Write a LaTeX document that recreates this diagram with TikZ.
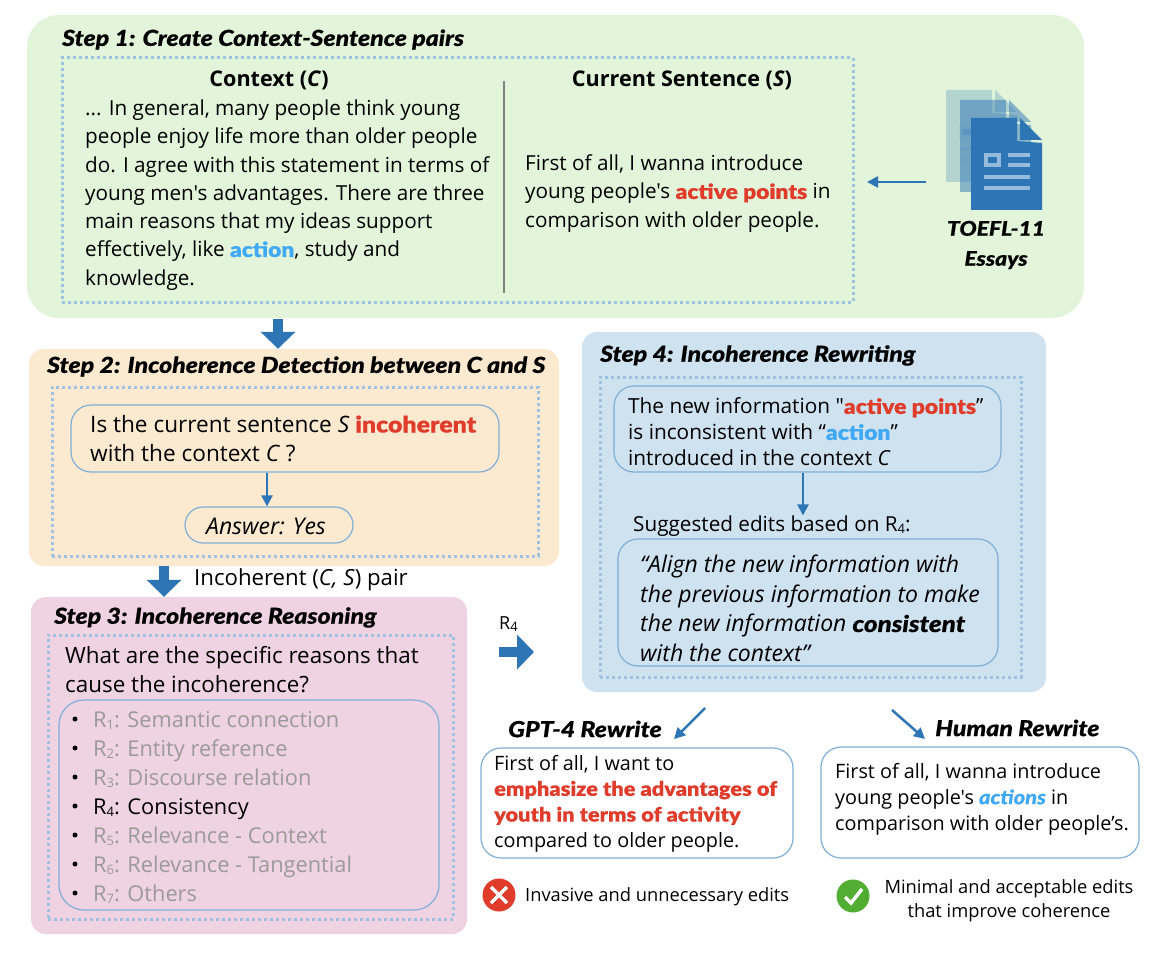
\documentclass[tikz,border=0pt]{standalone}
\usepackage{fontspec}
\defaultfontfeatures[\rmfamily,\sffamily]{}
\setmainfont{Open Sans}
\newfontfamily\headfont[FakeStretch=1.13,FakeBold=0.6]{Lato Black}
\newfontfamily\hotfont[FakeStretch=1.1,FakeBold=0.3]{Lato Black}
\usetikzlibrary{arrows.meta,fit,positioning}

\definecolor{stepgreen}{HTML}{E2F4D9}
\definecolor{steporange}{HTML}{FBE9D0}
\definecolor{steppink}{HTML}{F0D3E2}
\definecolor{stepblue}{HTML}{CFE2F0}
\definecolor{dotblue}{HTML}{9DC3E0}
\definecolor{edgeblue}{HTML}{7FAFD6}
\definecolor{arrowblue}{HTML}{2E75B6}
\definecolor{hotred}{HTML}{E03C2B}
\definecolor{skyblue}{HTML}{3FA9F5}
\definecolor{okgreen}{HTML}{52AE32}
\definecolor{fadegray}{HTML}{9A9A9A}

\newcommand{\hotword}[1]{\textcolor{hotred}{\hotfont #1}}
\newcommand{\skyword}[1]{\textcolor{skyblue}{\hotfont #1}}
\newcommand{\Rn}[1]{R\raisebox{-2pt}{\fontsize{13}{14}\selectfont #1}}

\tikzset{
  stepbox/.style={fill=#1, rounded corners=15pt, inner sep=0pt},
  dotbox/.style={draw=dotblue, line width=3pt, dash pattern=on 3pt off 3pt, inner sep=0pt},
  roundbox/.style={draw=edgeblue, line width=1.2pt, rounded corners=20pt, inner sep=0pt},
  steptitle/.style={anchor=west, inner sep=0pt, font=\headfont\itshape\fontsize{22}{24}\selectfont},
  bodytext/.style={anchor=west, inner sep=0pt, align=left, font=\fontsize{20.7}{28.3}\selectfont},
  smalltext/.style={anchor=west, inner sep=0pt, align=left, font=\fontsize{19.8}{25.8}\selectfont},
  bigarrow/.style={-{Triangle[width=34pt,length=17pt]}, draw=arrowblue, line width=10pt},
  thinarrow/.style={-{Triangle[width=11pt,length=11pt]}, draw=arrowblue, line width=2.5pt},
  docpage/.pic={
    \fill[arrowblue, opacity=#1] (0,0) -- (46,0) -- (46,23) -- (71,25) -- (71,92) -- (0,92) -- cycle;
    \fill[arrowblue, opacity=#1] (49,0) -- (71,22) -- (49,22) -- cycle;
    \fill[white!50!arrowblue, opacity=#1] (13,35) rectangle (30,49);
    \fill[arrowblue, opacity=#1] (17,39) rectangle (26,45);
    \fill[white!50!arrowblue, opacity=#1] (37,35) rectangle (59,39);
    \fill[white!50!arrowblue, opacity=#1] (37,45) rectangle (59,49);
    \fill[white!50!arrowblue, opacity=#1] (13,57) rectangle (59,61);
    \fill[white!50!arrowblue, opacity=#1] (13,68) rectangle (59,72);
  }
}

\begin{document}
\begin{tikzpicture}[x=1pt,y=-1pt]
  \useasboundingbox (0,0) rectangle (1166,968);

  % panels
  \node [stepbox=stepgreen, rounded corners=32pt, fit={(27,15) (1084,318)}] (step1) {};
  \node [stepbox=steporange, fit={(29,349) (559,566)}] (step2) {};
  \node [stepbox=steppink, fit={(31,597) (467,934)}] (step3) {};
  \node [stepbox=stepblue, fit={(582,332) (1046,692)}] (step4) {};
  \node [dotbox, fit={(62,58) (853,302)}] (dots1) {};
  \node [dotbox, fit={(52,387) (538,556)}] (dots2) {};
  \node [dotbox, fit={(48,635) (453,919)}] (dots3) {};
  \node [dotbox, fit={(600,377) (1021,677)}] (dots4) {};

  % step 1
  \node [steptitle] (title1) at (62,39.5) {Step 1: Create Context-Sentence pairs};
  \node [font=\bfseries\fontsize{21.6}{24}\selectfont] (ctxhead) at (269,80) {Context (\textit{C})};
  \node [font=\bfseries\fontsize{21.6}{24}\selectfont] (curhead) at (682,80) {Current Sentence (\textit{S})};
  \node [bodytext] (ctxtext) at (85,195) {... In general, many people think young\\people enjoy life more than older people\\do. I agree with this statement in terms of\\young men's advantages. There are three\\main reasons that my ideas support\\effectively, like \skyword{action}, study and\\knowledge.};
  \node [bodytext] (curtext) at (525,193.5) {First of all, I wanna introduce\\young people's \hotword{active points} in\\comparison with older people.};
  \coordinate (divtop) at (504,81);
  \coordinate (divbot) at (504,293);
  \draw [gray, line width=1.2pt] (divtop) -- (divbot);
  \pic at (946,90) {docpage=0.25};
  \pic at (960,100) {docpage=0.5};
  \pic at (971,118) {docpage=1};
  \node [align=center, font=\headfont\itshape\fontsize{20.2}{30}\selectfont] (essays) at (996,245) {TOEFL-11\\Essays};
  \coordinate (docs) at (926,182);
  \coordinate (docsin) at (867,182);
  \draw [thinarrow] (docs) -- (docsin);

  % step 2
  \node [steptitle] (title2) at (47,366.5) {Step 2: Incoherence Detection between C and S};
  \node [roundbox, fit={(71,405) (499,472)}] (ask) {};
  \node [bodytext, font=\fontsize{22.6}{28.8}\selectfont] (asktext) at (90,438.5) {Is the current sentence \textit{S} \hotword{incoherent}\\with the context \textit{C} ?};
  \node [roundbox, rounded corners=18pt, fit={(185,507) (353,543)}] (answer) {};
  \node [font=\itshape\fontsize{23}{24}\selectfont] (anstext) at (266,526) {Answer: Yes};
  \draw [thinarrow] (ask.south -| 267,0) -- (answer.north -| 267,0);

  % step 3
  \node [steptitle] (title3) at (54,617.5) {Step 3: Incoherence Reasoning};
  \node [bodytext, font=\fontsize{22.4}{29}\selectfont] (whytext) at (65,669.5) {What are the specific reasons that\\cause the incoherence?};
  \node [roundbox, rounded corners=25pt, fit={(59,700) (439,910)}] (reasons) {};
  \foreach \n/\y/\col/\txt in {1/719/fadegray/Semantic connection, 2/748/fadegray/Entity reference,
      3/777/fadegray/Discourse relation, 4/806/black/Consistency, 5/835/fadegray/Relevance - Context,
      6/864/fadegray/Relevance - Tangential, 7/893/fadegray/Others} {
    \node [circle, fill=black, minimum size=5pt, inner sep=0pt] (dot\n) at (75,\y) {};
    \node [bodytext, anchor=base west, text=\col, font=\fontsize{21.8}{28}\selectfont] (r\n) at (93,\y+8) {\Rn{\n}: \txt};
  }

  % step 4
  \node [steptitle] (title4) at (600,355.5) {Step 4: Incoherence Rewriting};
  \node [roundbox, fit={(614,386) (1001,472)}] (issue) {};
  \node [bodytext, font=\fontsize{20.8}{26}\selectfont] (issuetext) at (628,432) {The new information "\hotword{active points}”\\is inconsistent with “\skyword{action}”\\introduced in the context \textit{C}};
  \node [bodytext] (edits) at (633,526) {Suggested edits based on \Rn{4}:};
  \node [roundbox, fit={(618,539) (998,666)}] (quote) {};
  \node [bodytext, font=\itshape\fontsize{23}{29.6}\selectfont] (quotetext) at (640,608.5) {“Align the new information with\\the previous information to make\\the new information {\headfont\itshape consistent}\\with the context”};
  \draw [thinarrow] (issue.south -| 803,0) -- (edits.north -| 803,0);

  % rewrites
  \node [steptitle] (gpttitle) at (508,729) {GPT-4 Rewrite};
  \node [steptitle] (humantitle) at (935,728) {Human Rewrite};
  \node [roundbox, fill=white, fit={(481,748) (793,858)}] (gptbox) {};
  \node [roundbox, fill=white, fit={(821,747) (1139,858)}] (humanbox) {};
  \node [smalltext] (gpttext) at (494,803.5) {First of all, I want to\\\hotword{emphasize the advantages of}\\\hotword{youth in terms of activity}\\compared to older people.};
  \node [smalltext] (humantext) at (835,799) {First of all, I wanna introduce\\young people's \textcolor{skyblue}{\hotfont\itshape actions} in\\comparison with older people’s.};
  \node [circle, fill=hotred, minimum size=33pt, inner sep=0pt] (badmark) at (499,895) {};
  \draw [white, line width=3.5pt] (491,887) -- (507,903) (507,887) -- (491,903);
  \node [circle, fill=okgreen, minimum size=33pt, inner sep=0pt] (goodmark) at (853,896) {};
  \draw [white, line width=3.5pt] (845,897) -- (851,903) -- (862,889);
  \node [anchor=west, inner sep=0pt, font=\fontsize{18.3}{24}\selectfont] (badtext) at (525,897) {Invasive and unnecessary edits};
  \node [align=center, inner sep=0pt, font=\fontsize{18.3}{24}\selectfont] (goodtext) at (1009,900.5) {Minimal and acceptable edits\\that improve coherence};

  % flow between the panels
  \coordinate (flow12) at (278,319);
  \draw [bigarrow] (flow12) -- (flow12 |- step2.north);
  \coordinate (flow23) at (164,566);
  \draw [bigarrow] (flow23) -- (flow23 |- step3.north);
  \node [anchor=west, inner sep=0pt, font=\fontsize{22.2}{24}\selectfont] (pairlabel) at (194,580) {Incoherent (\textit{C, S}) pair};
  \coordinate (flow34) at (499,652);
  \coordinate (flow34end) at (534,652);
  \draw [bigarrow] (flow34) -- (flow34end);
  \node [anchor=west, inner sep=0pt, font=\fontsize{18}{20}\selectfont] (r4label) at (499,624) {\Rn{4}};
  \coordinate (gptfrom) at (705,708);
  \coordinate (gptto) at (674,739);
  \coordinate (humanfrom) at (892,710);
  \coordinate (humanto) at (925,739);
  \draw [thinarrow] (gptfrom) -- (gptto);
  \draw [thinarrow] (humanfrom) -- (humanto);
\end{tikzpicture}
\end{document}
